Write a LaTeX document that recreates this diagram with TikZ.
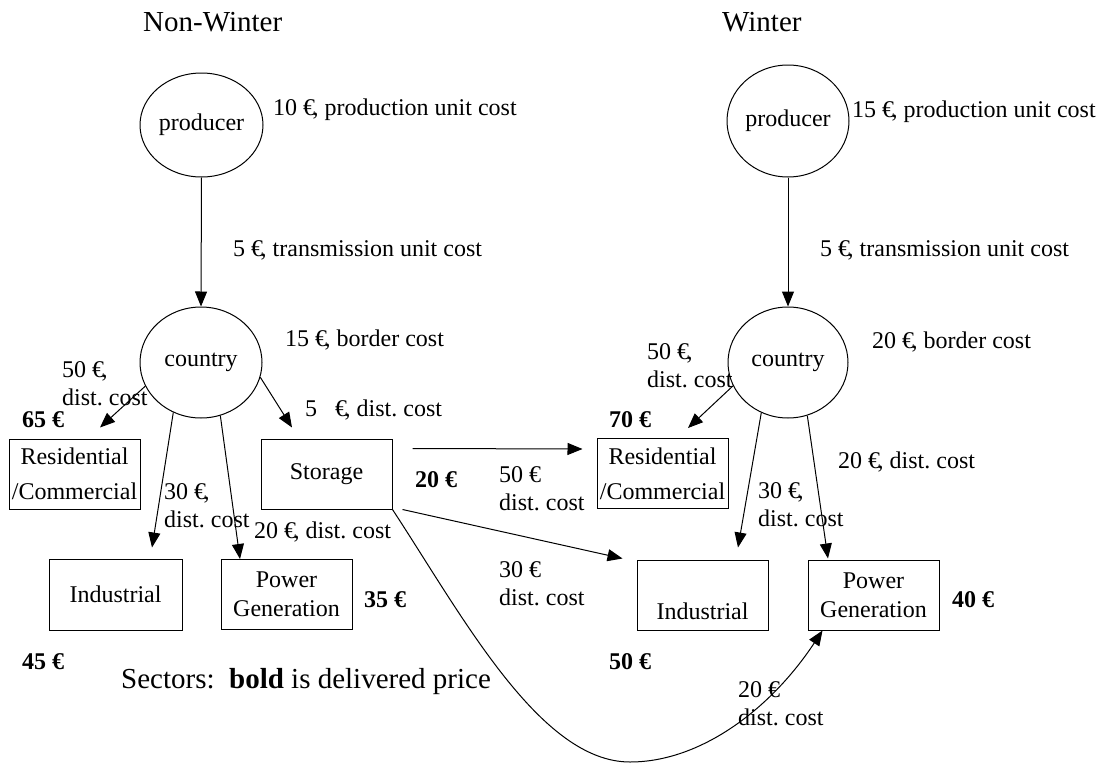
\documentclass[tikz,border=0pt]{standalone}
\usepackage{fontspec}
\setmainfont{Liberation Serif}
\usetikzlibrary{shapes.geometric,arrows.meta}
\frenchspacing
\newcommand\mylblfont{\fontsize{24}{28}\selectfont}
\newcommand\mytitlefont{\fontsize{29}{34}\selectfont}
\newcommand\myresfont{\fontsize{24}{35}\selectfont}
\newcommand\mypgfont{\fontsize{24}{29}\selectfont}
\newcommand\eurc{€\kern-2.5pt,}
\begin{document}
\begin{tikzpicture}[x=1pt,y=-1pt,
  lbl/.style={anchor=west, inner sep=0pt, font=\mylblfont, align=left},
  price/.style={anchor=west, inner sep=0pt, font=\mylblfont\bfseries},
  title/.style={anchor=west, inner sep=0pt, font=\mytitlefont},
  ell/.style={ellipse, draw, line width=1pt, inner sep=0pt, font=\mylblfont},
  sector/.style={rectangle, draw, line width=1pt, minimum width=131pt, minimum height=70pt, inner sep=0pt, font=\mylblfont, align=center},
  arr/.style={line width=1pt, -{Triangle[length=15pt,width=12pt]}}]
\useasboundingbox (0,0) rectangle (1112,763);
\fill[white] (0,0) rectangle (1112,763);

% ---------- Non-Winter ----------
\node[title] (tNW) at (143,22) {Non-Winter};
\node[ell, minimum width=123pt, minimum height=104pt] (prodL) at (201.5,125) {producer};
\node[lbl] (cProdL) at (273,110) {10 \eurc{} production unit cost};
\node[lbl] (cTransL) at (233,250) {5 \eurc{} transmission unit cost};
\node[ell, minimum width=122pt, minimum height=111pt] (countryL) at (201,362.5) {country};
\node[lbl] (cBorderL) at (285,340) {15 \eurc{} border cost};
\node[lbl] (cResL) at (62,384) {50 \eurc\\dist. cost};
\node[price] (pResL) at (22,420) {65 €};
\node[sector, font=\myresfont] (resL) at (74.5,474) {Residential\\/Commercial};
\node[sector] (stor) at (326.5,474) {Storage};
\node[lbl] (cStor) at (305,410) {5\ \ \ \eurc{} dist. cost};
\node[lbl] (cIndL) at (164,506) {30 \eurc\\dist. cost};
\node[lbl] (cPgL) at (254,532) {20 \eurc{} dist. cost};
\node[sector, minimum width=133pt, minimum height=71pt] (indL) at (115.5,594.5) {Industrial};
\node[sector, font=\mypgfont] (pgL) at (286.5,594.5) {Power\\Generation};
\node[price] (pPgL) at (364,600) {35 €};
\node[price] (pIndL) at (22,662) {45 €};
\node[title] (legend) at (121,682) {Sectors:\ \ \textbf{bold} is delivered price};
\node[price] (pStor) at (415,480) {20 €};
\node[lbl] (cStorRes) at (499,489) {50 €\\dist. cost};
\node[lbl] (cStorInd) at (499,584) {30 €\\dist. cost};

% ---------- Winter ----------
\node[title] (tW) at (722,22) {Winter};
\node[ell, minimum width=122pt, minimum height=112pt] (prodR) at (788,121) {producer};
\node[lbl] (cProdR) at (852,112) {15 \eurc{} production unit cost};
\node[lbl] (cTransR) at (820,250) {5 \eurc{} transmission unit cost};
\node[ell, minimum width=120pt, minimum height=111pt] (countryR) at (788,362.5) {country};
\node[lbl] (cBorderR) at (872,342) {20 \eurc{} border cost};
\node[lbl] (cResR) at (647,366) {50 \eurc\\dist. cost};
\node[price] (pResR) at (609,420) {70 €};
\node[sector, font=\myresfont] (resR) at (662.5,473.5) {Residential\\/Commercial};
\node[lbl] (cPgR) at (838,462) {20 \eurc{} dist. cost};
\node[lbl] (cIndR) at (758,505) {30 \eurc\\dist. cost};
\node[sector, text height=50pt] (indR) at (702.5,595) {Industrial};
\node[sector, font=\mypgfont] (pgR) at (873.5,595) {Power\\Generation};
\node[price] (pPgR) at (952,600) {40 €};
\node[price] (pIndR) at (609,662) {50 €};
\node[lbl] (cStorPg) at (738,704) {20 €\\dist. cost};

% ---------- connectors ----------
\draw[arr] (prodL.south) -- (countryL.north);
\draw[arr] (prodR.south) -- (countryR.north);
\draw[arr] (countryL.203) -- ([xshift=25.5pt,yshift=11pt]resL.north);
\draw[arr] (countryL.241) -- ([xshift=36.5pt,yshift=11pt]indL.north);
\draw[arr] (countryL.290) -- ([xshift=-46.5pt]pgL.north);
\draw[arr] (countryL.346) -- ([xshift=-34.5pt,yshift=11pt]stor.north);
\draw[arr] ([xshift=20pt,yshift=-10pt]stor.north east) -- ([xshift=-14pt,yshift=-11pt]resR.north west);
\draw[arr] ([xshift=10pt]stor.south east) -- ([xshift=-14pt,yshift=1pt]indR.north west);
\coordinate (bottom) at (630,762);
\draw[arr] (stor.south east) .. controls (463,617) and (540,762) .. (bottom)
  .. controls (700,762) and (770,710) .. ([xshift=15pt]pgR.south west);
\draw[arr] (countryR.203) -- ([xshift=25.5pt,yshift=10pt]resR.north);
\draw[arr] (countryR.242) -- ([xshift=35.5pt,yshift=12pt]indR.north);
\draw[arr] (countryR.290) -- ([xshift=-45.5pt,yshift=1pt]pgR.north);
\end{tikzpicture}
\end{document}
